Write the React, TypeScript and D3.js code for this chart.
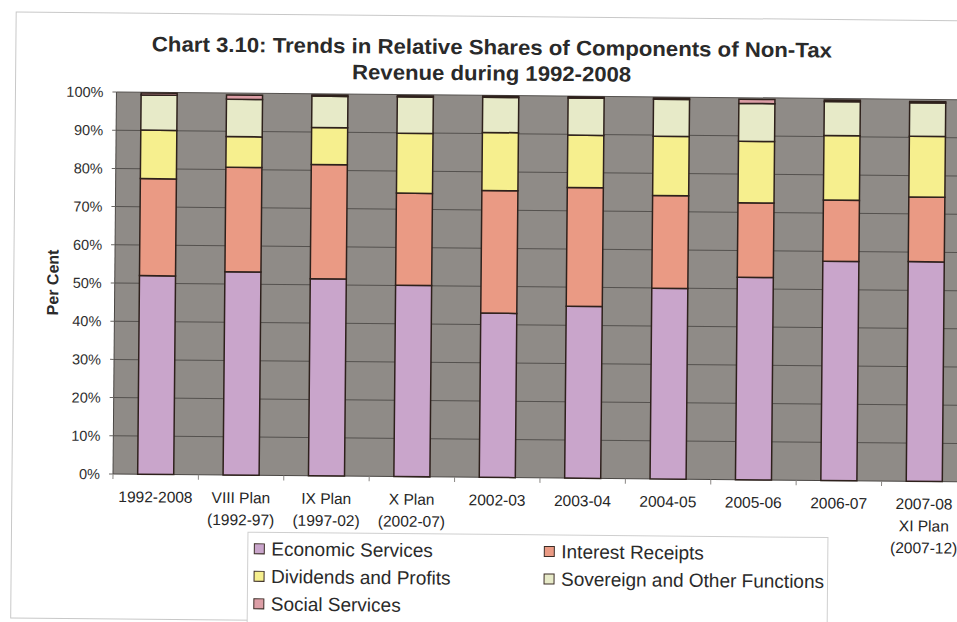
import { useMemo } from "react"
import * as d3 from "d3"

// categories (lines of each x label)
const categories = [
  ["1992-2008"],
  ["VIII Plan", "(1992-97)"],
  ["IX Plan", "(1997-02)"],
  ["X Plan", "(2002-07)"],
  ["2002-03"],
  ["2003-04"],
  ["2004-05"],
  ["2005-06"],
  ["2006-07"],
  ["2007-08", "XI Plan", "(2007-12)"],
]

const economic = [52.0, 53.2, 51.6, 50.1, 43.0, 45.0, 49.9, 53.0, 57.4, 57.5]
const interest = [25.4, 27.4, 29.9, 24.1, 32.1, 31.1, 24.3, 19.5, 16.0, 16.9]
const dividends = [12.7, 8.0, 9.7, 15.7, 15.2, 13.7, 15.5, 16.1, 16.9, 15.9]
const sovereign = [9.2, 9.8, 8.2, 9.5, 9.2, 9.7, 9.7, 9.9, 8.9, 8.8]
const social = [0.5, 1.1, 0.3, 0.3, 0.3, 0.3, 0.3, 1.1, 0.4, 0.3]

const yTicks = [0, 10, 20, 30, 40, 50, 60, 70, 80, 90, 100]

const series = [
  { key: "economic", label: "Economic Services", values: economic, color: "#c9a5cb" },
  { key: "interest", label: "Interest Receipts", values: interest, color: "#ea9a84" },
  { key: "dividends", label: "Dividends and Profits", values: dividends, color: "#f6ef8e" },
  { key: "sovereign", label: "Sovereign and Other Functions", values: sovereign, color: "#e7eac8" },
  { key: "social", label: "Social Services", values: social, color: "#dc9ea6" },
]

// legend order as drawn (two columns)
const legendOrder = ["economic", "interest", "dividends", "sovereign", "social"]

const W = 957
const H = 622
const plotLeft = 113
const plotRight = 967
const plotTop = 92
const plotBottom = 474

const App = () => {
  const x = useMemo(
    () =>
      d3
        .scaleBand<number>()
        .domain(categories.map((_, i) => i))
        .range([plotLeft, plotRight])
        .paddingInner(0.578)
        .paddingOuter(0.289),
    []
  )
  const y = useMemo(() => d3.scaleLinear().domain([0, 100]).range([plotBottom, plotTop]), [])

  const rows = categories.map((_, i) => {
    const r: any = { i }
    series.forEach((s) => (r[s.key] = s.values[i]))
    return r
  })
  const stacked = d3.stack().keys(series.map((s) => s.key))(rows)
  const font = "'Liberation Sans', Arial, Helvetica, sans-serif"
  const step = x.step()

  return (
    <div style={{ position: "absolute", left: 0, top: 0 }}>
      <svg width={W} height={H} style={{ display: "block", background: "#fff" }}>
        <g transform={`rotate(0.52 ${plotLeft} ${plotBottom})`}>
          {/* outer chart border */}
          <rect x={12} y={13} width={1000} height={606} fill="#fff" stroke="#c8c8c8" strokeWidth={1} />

          {/* title */}
          <g fontFamily="'Liberation Sans Narrow', 'Arial Narrow', 'Liberation Sans', Arial, sans-serif" fontWeight="bold" fill="#2a2a2a" fontSize={21} textAnchor="middle">
            <text x={488} y={51} textLength={680} lengthAdjust="spacingAndGlyphs">
              Chart 3.10: Trends in Relative Shares of Components of Non-Tax
            </text>
            <text x={488} y={77} textLength={279} lengthAdjust="spacingAndGlyphs">
              Revenue during 1992-2008
            </text>
          </g>

          {/* plot background */}
          <rect x={plotLeft} y={plotTop} width={plotRight - plotLeft} height={plotBottom - plotTop} fill="#8f8b87" />

          {/* gridlines */}
          {yTicks.slice(1).map((t) => (
            <line key={t} x1={plotLeft} x2={plotRight} y1={y(t)} y2={y(t)} stroke="#55524f" strokeWidth={1} />
          ))}

          {/* axes */}
          <line x1={plotLeft} x2={plotLeft} y1={plotTop} y2={plotBottom} stroke="#4a4744" strokeWidth={1} />
          <line x1={plotLeft} x2={plotRight} y1={plotBottom} y2={plotBottom} stroke="#4a4744" strokeWidth={1} />
          {yTicks.map((t) => (
            <line key={t} x1={plotLeft - 4} x2={plotLeft} y1={y(t)} y2={y(t)} stroke="#6a6764" />
          ))}
          {categories.map((_, i) => (
            <line
              key={i}
              x1={(x(i) as number) - (step - x.bandwidth()) / 2}
              x2={(x(i) as number) - (step - x.bandwidth()) / 2}
              y1={plotBottom}
              y2={plotBottom + 5}
              stroke="#8a8784"
            />
          ))}

          {/* bars */}
          {stacked.map((layer, li) => (
            <g key={layer.key} fill={series[li].color} stroke="#2e211c" strokeWidth={1.5}>
              {layer.map((d, i) => (
                <rect
                  key={i}
                  x={x(i)}
                  y={y(d[1])}
                  width={x.bandwidth()}
                  height={Math.max(0, y(d[0]) - y(d[1]))}
                />
              ))}
            </g>
          ))}

          {/* y tick labels */}
          <g fontFamily={font} fontSize={14.5} fill="#2e2e2e" textAnchor="end">
            {yTicks.map((t) => (
              <text key={t} x={100} y={y(t)} dy="0.36em">
                {t}%
              </text>
            ))}
          </g>

          {/* y axis title */}
          <text
            transform={`translate(51,283) rotate(-90)`}
            fontFamily={font}
            fontSize={16}
            fontWeight="bold"
            fill="#2a2a2a"
            textAnchor="middle"
            dy="0.35em"
          >
            Per Cent
          </text>

          {/* x labels */}
          <g fontFamily={font} fontSize={15.5} fill="#262626" textAnchor="middle">
            {categories.map((lines, i) => (
              <text key={i} x={(x(i) as number) + x.bandwidth() / 2} y={502}>
                {lines.map((ln, k) => (
                  <tspan key={k} x={(x(i) as number) + x.bandwidth() / 2} dy={k === 0 ? 0 : 22}>
                    {ln}
                  </tspan>
                ))}
              </text>
            ))}
          </g>

          {/* legend */}
          <rect x={248.5} y={531} width={580} height={100} fill="#fff" stroke="#cfcfcf" strokeWidth={1} />
          <g fontFamily={font} fontSize={19} fill="#2a2a2a">
            {legendOrder.map((k, idx) => {
              const s = series.find((q) => q.key === k)!
              const col = idx % 2
              const row = Math.floor(idx / 2)
              const lx = col === 0 ? 255 : 545
              const ly = 547.5 + row * 27.5
              return (
                <g key={k}>
                  <rect x={lx} y={ly - 5} width={10} height={10} fill={s.color} stroke="#3a2c26" strokeWidth={1} />
                  <text x={lx + 17} y={ly} dy="0.35em">
                    {s.label}
                  </text>
                </g>
              )
            })}
          </g>
        </g>
      </svg>
    </div>
  )
}

export default App
